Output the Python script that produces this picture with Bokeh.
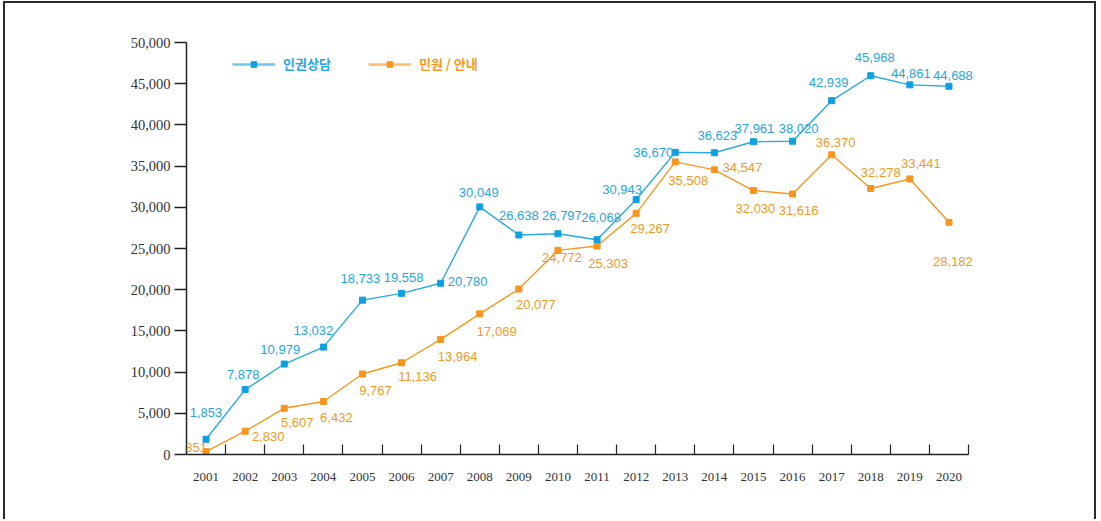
from bokeh.plotting import figure
from bokeh.models import (Range1d, FixedTicker, NumeralTickFormatter, ColumnDataSource,
                          LabelSet, Legend, LegendItem)
from bokeh.core.properties import value
from bokeh.embed import file_html
from bokeh.resources import INLINE

years = [2001, 2002, 2003, 2004, 2005, 2006, 2007, 2008, 2009, 2010,
         2011, 2012, 2013, 2014, 2015, 2016, 2017, 2018, 2019, 2020]
counsel = [1853, 7878, 10979, 13032, 18733, 19558, 20780, 30049, 26638, 26797,
           26068, 30943, 36670, 36623, 37961, 38020, 42939, 45968, 44861, 44688]
complaint = [351, 2830, 5607, 6432, 9767, 11136, 13964, 17069, 20077, 24772,
             25303, 29267, 35508, 34547, 32030, 31616, 36370, 32278, 33441, 28182]
series_names = ["인권상담", "민원 / 안내"]
y_ticks = [0, 5000, 10000, 15000, 20000, 25000, 30000, 35000, 40000, 45000, 50000]

# label offsets (screen px; dy positive = up)
blue_dx = [0, -2, -4, -10, -2, 2, 27, -1, 0, 4, 4, -14, -22, 3, 1, 6, -3, 4, 1, 4]
blue_dy = [27, 15, 15, 17, 22, 16, 2, 14, 20, 18, 22, 10, 0, 17, 13, 13, 18, 18, 11, 11]
orng_dx = [-10, 23, 13, 13, 13, 16, 17, 17, 17, 4, 11, 14, 13, 28, 2, 6, 4, 10, 11, 4]
orng_dy = [4, -5, -14, -16, -16, -14, -17, -18, -15, -7, -17, -15, -19, 2, -18, -17, 12, 16, 15, -39]

BLUE_LINE = "#2aaae4"
BLUE_PT = "#0f9fe2"
BLUE_TXT = "#25a6e2"
ORNG_LINE = "#f7981f"
ORNG_PT = "#f7941d"
ORNG_TXT = "#f39a24"

xs = [i + 0.5 for i in range(len(years))]
n = len(years)
NAN = float("nan")

p = figure(width=1093, height=518, output_backend="svg", toolbar_location=None,
           x_range=Range1d(0, n * 806 / 782), y_range=Range1d(0, 50000),
           min_border_left=181, min_border_right=106, min_border_top=39, min_border_bottom=67)
p.styles = {"border-top": "2px solid #2a2a2a", "border-left": "2px solid #2a2a2a",
            "border-right": "2px solid #2a2a2a", "margin-left": "3px", "margin-top": "1px"}
p.outline_line_color = None
p.xgrid.visible = False
p.ygrid.visible = False
p.background_fill_color = "white"
p.border_fill_color = "white"

# axes
p.yaxis.ticker = FixedTicker(ticks=y_ticks)
p.yaxis.formatter = NumeralTickFormatter(format="0,0")
p.yaxis.major_tick_out = 12
p.yaxis.major_tick_in = 0
p.yaxis.minor_tick_line_color = None
p.yaxis.axis_line_color = "#222222"
p.yaxis.axis_line_width = 1.5
p.yaxis.major_tick_line_color = "#222222"
p.yaxis.major_tick_line_width = 1.5
p.yaxis.major_label_text_font = "Liberation Serif"
p.yaxis.major_label_text_font_size = "14.5px"
p.yaxis.major_label_text_color = "#333333"
p.yaxis.major_label_standoff = 4

p.xaxis.bounds = (0, n)
p.xaxis.ticker = FixedTicker(ticks=xs, minor_ticks=list(range(n + 1)))
p.xaxis.major_label_overrides = {x: str(y) for x, y in zip(xs, years)}
p.xaxis.major_tick_line_color = None
p.xaxis.major_tick_in = 0
p.xaxis.major_tick_out = 0
p.xaxis.minor_tick_in = 10
p.xaxis.minor_tick_out = 0
p.xaxis.minor_tick_line_color = "#222222"
p.xaxis.minor_tick_line_width = 1.2
p.xaxis.axis_line_color = "#222222"
p.xaxis.axis_line_width = 1.5
p.xaxis.major_label_text_font = "Liberation Serif"
p.xaxis.major_label_text_font_size = "13px"
p.xaxis.major_label_text_color = "#333333"
p.xaxis.major_label_standoff = 18

src_b = ColumnDataSource(dict(x=xs, y=counsel, t=[f"{v:,}" for v in counsel],
                              dx=blue_dx, dy=blue_dy))
src_o = ColumnDataSource(dict(x=xs, y=complaint, t=[f"{v:,}" for v in complaint],
                              dx=orng_dx, dy=orng_dy))

p.line("x", "y", source=src_o, line_color=ORNG_LINE, line_width=1.4)
p.scatter("x", "y", source=src_o, marker="square", size=6, fill_color=ORNG_PT, line_color=ORNG_PT)
p.line("x", "y", source=src_b, line_color=BLUE_LINE, line_width=1.4)
p.scatter("x", "y", source=src_b, marker="square", size=6, fill_color=BLUE_PT, line_color=BLUE_PT)

for src, col in ((src_b, BLUE_TXT), (src_o, ORNG_TXT)):
    ls = LabelSet(x="x", y="y", text="t", x_offset="dx", y_offset="dy", source=src,
                  text_align="center", text_baseline="middle",
                  text_font=value("Liberation Sans"), text_font_size="13px", text_color=col)
    p.add_layout(ls)

# legends (glyph-only renderers with a single NaN point)
lb = p.line([NAN], [NAN], line_color="#6fc6ef", line_width=2.5)
mb = p.scatter([NAN], [NAN], marker="square", size=7, fill_color=BLUE_PT, line_color=BLUE_PT)
lo = p.line([NAN], [NAN], line_color="#fbbd6e", line_width=2.5)
mo = p.scatter([NAN], [NAN], marker="square", size=7, fill_color=ORNG_PT, line_color=ORNG_PT)

for (rs, name, col, loc) in (([lb, mb], series_names[0], BLUE_TXT, (46, 381)),
                             ([lo, mo], series_names[1], ORNG_TXT, (182, 381))):
    lg = Legend(items=[LegendItem(label=name, renderers=rs)], location=loc,
                orientation="horizontal", padding=0, margin=0, spacing=0,
                glyph_width=43, glyph_height=14, label_height=14, label_standoff=8,
                border_line_color=None, background_fill_alpha=0,
                label_text_font="Noto Sans CJK KR", label_text_font_style="bold",
                label_text_font_size="13px", label_text_color=col,
                label_text_baseline="middle")
    p.add_layout(lg, "center")

open("out.html", "w").write(file_html(p, INLINE))
